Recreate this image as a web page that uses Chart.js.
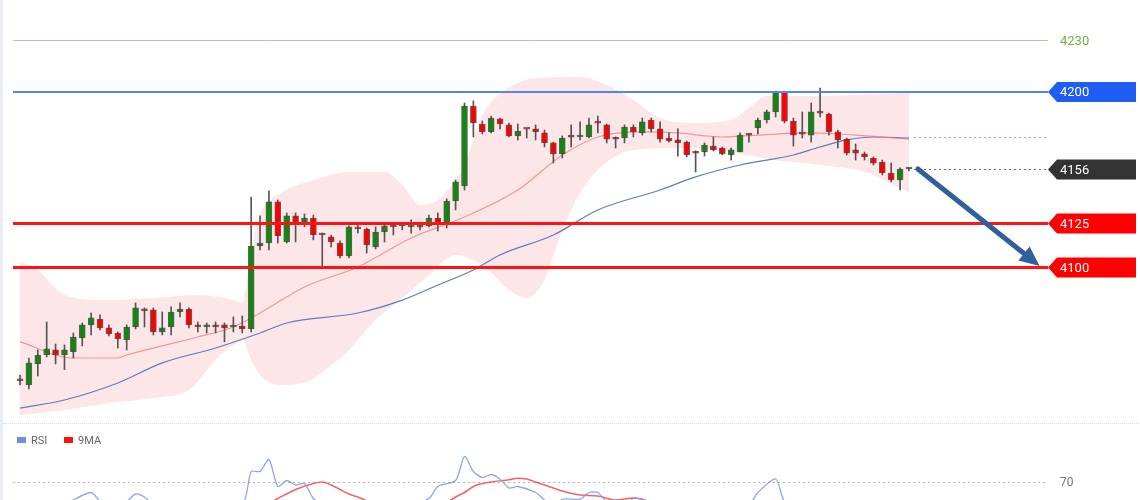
<!DOCTYPE html>
<html>
<head>
<meta charset="utf-8">
<script src="https://cdn.jsdelivr.net/npm/chart.js@4.4.1/dist/chart.umd.min.js"></script>
<style>
  html, body { margin: 0; padding: 0; background: #fff; width: 1140px; height: 500px; overflow: hidden; }
  #wrap { position: relative; width: 1140px; height: 500px; border-left: 3px solid #eaeff3; box-sizing: border-box; }
  #main { position: absolute; left: -3px; top: 0; }
  #sep { position: absolute; left: 0; top: 423px; width: 1140px; border-top: 1px dotted #d5e0e2; }
  #rsi { position: absolute; left: -3px; top: 424px; }
  #legend { position: absolute; left: 14px; top: 434px; font: 11px Roboto, "Liberation Sans", sans-serif; color: #666; }
  #legend span.box { display: inline-block; width: 9px; height: 6px; margin-right: 5px; vertical-align: 1px; }
  #legend span.item { margin-right: 14px; }
</style>
</head>
<body>
<div id="wrap">
  <canvas id="main" width="1140" height="422"></canvas>
  <div id="sep"></div>
  <canvas id="rsi" width="1140" height="200"></canvas>
  <div id="legend">
    <span class="item"><span class="box" style="background:#6f8fe6"></span>RSI</span>
    <span class="item"><span class="box" style="background:#ff1010"></span>9MA</span>
  </div>
</div>
<script>
// ------------------------------------------------------------
// Candles (one per bar, left to right)
// ------------------------------------------------------------
var opens = [
  4036.0, 4032.6, 4044.6, 4049.7, 4052.6, 4049.7, 4051.5, 4059.5, 4066.9, 4070.3,
  4065.2, 4062.3, 4058.3, 4065.7, 4076.0, 4075.5, 4062.9, 4065.7, 4074.3, 4076.0,
  4066.9, 4065.7, 4066.9, 4066.9, 4065.7, 4066.3, 4064.6, 4112.0, 4113.7, 4137.2,
  4114.3, 4129.2, 4125.7, 4128.0, 4118.9, 4117.2, 4113.7, 4106.3, 4122.3, 4121.7,
  4111.5, 4120.0, 4123.5, 4123.5, 4122.9, 4122.9, 4123.5, 4128.0, 4125.2, 4137.7,
  4146.3, 4192.0, 4181.7, 4177.2, 4184.6, 4181.2, 4174.9, 4178.9, 4178.9, 4176.6,
  4170.9, 4164.6, 4174.3, 4174.3, 4174.3, 4182.3, 4181.2, 4173.1, 4173.7, 4180.0,
  4176.6, 4184.0, 4178.9, 4173.7, 4172.6, 4171.4, 4166.3, 4165.7, 4169.1, 4168.0,
  4164.0, 4165.7, 4175.4, 4179.5, 4184.0, 4188.6, 4200.0, 4183.4, 4176.0, 4175.4,
  4188.0, 4187.4, 4177.2, 4173.1, 4166.9, 4164.6, 4162.3, 4160.0, 4153.7, 4149.7,
  4156.0
];
var highs = [
  4038.3, 4048.0, 4052.6, 4068.6, 4056.0, 4055.5, 4062.3, 4068.0, 4073.7, 4072.6,
  4066.9, 4062.9, 4066.9, 4079.5, 4076.6, 4076.6, 4074.3, 4077.2, 4079.5, 4076.6,
  4068.6, 4068.0, 4068.6, 4068.0, 4071.5, 4072.0, 4140.0, 4129.2, 4143.5, 4138.3,
  4130.9, 4130.9, 4130.3, 4129.7, 4119.4, 4118.3, 4114.9, 4123.5, 4125.2, 4122.3,
  4122.9, 4124.6, 4124.0, 4124.6, 4126.9, 4125.2, 4129.7, 4130.9, 4138.9, 4149.7,
  4193.7, 4194.9, 4183.4, 4186.3, 4185.1, 4182.3, 4181.7, 4179.0, 4181.2, 4178.3,
  4171.4, 4174.9, 4181.2, 4182.9, 4185.1, 4186.3, 4181.7, 4174.3, 4181.2, 4181.2,
  4185.1, 4185.1, 4182.9, 4176.6, 4178.9, 4172.0, 4166.4, 4170.9, 4174.3, 4168.6,
  4168.0, 4176.6, 4176.0, 4185.1, 4189.7, 4200.5, 4200.5, 4185.1, 4188.6, 4193.7,
  4202.3, 4188.0, 4178.3, 4173.7, 4170.3, 4165.7, 4162.9, 4161.1, 4159.4, 4156.6,
  4156.6
];
var lows = [
  4032.6, 4030.3, 4037.7, 4048.6, 4044.6, 4041.4, 4048.0, 4054.9, 4061.2, 4064.0,
  4060.6, 4053.7, 4052.6, 4064.6, 4065.7, 4061.2, 4061.2, 4061.2, 4071.5, 4065.2,
  4062.9, 4062.3, 4062.3, 4057.2, 4062.9, 4062.3, 4062.9, 4109.7, 4109.7, 4113.7,
  4113.7, 4114.3, 4122.9, 4115.5, 4100.0, 4111.5, 4105.2, 4105.2, 4119.4, 4108.0,
  4110.3, 4114.3, 4118.3, 4121.2, 4119.4, 4121.2, 4122.9, 4120.6, 4122.3, 4132.6,
  4144.0, 4174.3, 4176.0, 4176.6, 4178.9, 4174.3, 4172.6, 4173.7, 4172.6, 4168.6,
  4159.4, 4162.3, 4168.6, 4172.6, 4173.7, 4176.6, 4170.9, 4168.0, 4170.9, 4174.3,
  4175.4, 4177.2, 4171.4, 4171.4, 4163.4, 4162.9, 4154.3, 4163.4, 4166.3, 4164.0,
  4161.1, 4165.7, 4171.4, 4176.0, 4182.3, 4185.7, 4182.3, 4169.1, 4173.7, 4171.4,
  4185.7, 4175.4, 4168.0, 4164.0, 4161.1, 4161.1, 4158.3, 4152.6, 4148.6, 4144.0,
  4154.9
];
var closes = [
  4034.9, 4045.2, 4049.7, 4053.2, 4049.7, 4052.6, 4060.0, 4066.9, 4070.9, 4065.2,
  4061.7, 4058.9, 4065.7, 4076.6, 4074.9, 4062.9, 4065.2, 4074.3, 4076.0, 4066.9,
  4065.7, 4066.9, 4065.7, 4065.2, 4066.3, 4064.6, 4112.0, 4113.7, 4137.2, 4117.7,
  4129.2, 4125.2, 4128.0, 4118.3, 4118.3, 4114.3, 4106.3, 4122.9, 4121.7, 4112.6,
  4120.0, 4123.5, 4122.9, 4123.6, 4123.5, 4122.8, 4128.0, 4125.2, 4137.7, 4148.6,
  4192.0, 4182.3, 4177.2, 4185.1, 4181.7, 4174.9, 4177.7, 4178.8, 4177.2, 4170.9,
  4164.6, 4173.7, 4174.2, 4174.9, 4181.2, 4182.2, 4173.1, 4173.0, 4180.0, 4177.2,
  4182.9, 4178.9, 4173.1, 4172.0, 4170.9, 4164.0, 4165.1, 4169.7, 4166.9, 4164.6,
  4166.9, 4175.4, 4175.3, 4184.0, 4188.6, 4200.0, 4183.4, 4175.4, 4175.9, 4188.6,
  4187.9, 4177.2, 4172.6, 4165.1, 4165.1, 4162.9, 4159.4, 4153.7, 4149.7, 4156.0,
  4156.1
];

// ------------------------------------------------------------
// Overlays: [bar index, price]
// ------------------------------------------------------------
var bandUpper = [
  [0, 4102.9], [2, 4098.3], [5, 4084.0], [10, 4081.1], [15, 4082.3], [20, 4084.0],
  [24, 4081.1], [25, 4079.4], [26, 4109.7], [27, 4129.7], [29, 4141.1], [33, 4149.7],
  [37, 4154.3], [41, 4154.3], [43, 4146.9], [45, 4135.4], [47, 4138.3], [49, 4149.7],
  [50, 4158.3], [52, 4186.9], [55, 4202.3], [58, 4208.0], [63, 4208.6], [66, 4204.0],
  [69, 4195.4], [72, 4185.1], [76, 4182.3], [80, 4184.0], [82, 4190.9], [84, 4197.7],
  [88, 4197.7], [94, 4198.3], [100, 4199.4]
];
var bandLower = [
  [0, 4015.4], [5, 4018.3], [10, 4022.3], [15, 4025.2], [19, 4029.7], [22, 4046.9],
  [24, 4055.5], [25, 4058.3], [26, 4046.9], [27, 4038.3], [29, 4032.6], [32, 4033.7],
  [34, 4040.0], [37, 4052.6], [40, 4069.7], [43, 4082.3], [46, 4095.4], [49, 4106.9],
  [52, 4101.1], [55, 4086.9], [57, 4082.3], [59, 4092.6], [60, 4106.9], [62, 4132.6],
  [64, 4149.7], [66, 4160.0], [69, 4166.9], [75, 4168.0], [80, 4165.7], [85, 4161.1],
  [90, 4158.3], [95, 4154.3], [100, 4142.9]
];
var bandMid = [
  [0, 4057.2], [6, 4048.0], [11, 4048.0], [12, 4049.7], [20, 4060.0], [24, 4065.7],
  [27, 4073.7], [32, 4088.6], [38, 4100.0], [44, 4116.6], [50, 4128.6], [56, 4144.0],
  [61, 4164.0], [65, 4174.3], [70, 4177.2], [74, 4176.6], [79, 4174.3], [83, 4175.4],
  [89, 4176.6], [94, 4175.4], [100, 4173.1]
];
var slowMA = [
  [0, 4019.4], [5, 4024.0], [11, 4033.7], [16, 4045.2], [22, 4053.7], [27, 4062.3],
  [30, 4068.0], [38, 4073.7], [43, 4081.1], [47, 4089.7], [51, 4098.3], [54, 4106.9],
  [60, 4118.3], [65, 4132.6], [72, 4144.0], [76, 4151.5], [81, 4158.3], [87, 4164.0],
  [90, 4168.6], [93, 4172.6], [96, 4174.3], [100, 4173.7]
];

// Levels on the right
var levelValues = [4230, 4200, 4156, 4125, 4100];
var levelLabels = ['4230', '4200', '4156', '4125', '4100'];
var maLastValue = 4174.3;

// Projection arrow: [bar index, price]
var arrowFrom = [101, 4156];
var arrowTo = [114.7, 4100.6];

// RSI panel: [bar index, value]
var rsiLine = [
  [0, 40], [4, 50], [6, 58], [8, 63], [9, 57], [10, 52], [12, 57], [13, 62], [14, 60],
  [15, 55], [20, 48], [25, 55], [26, 77], [27, 77], [28, 85], [29, 67], [30, 71],
  [31, 68], [32, 69], [33, 59], [34, 55], [36, 45], [43, 52], [46, 59], [47, 67],
  [49, 71], [50, 87], [51, 77], [52, 73], [53, 75], [54, 72], [55, 66], [56, 67],
  [58, 63], [59, 58], [60, 52], [61, 58.5], [63, 58.5], [64, 63], [65, 63], [66, 57],
  [68, 55], [69, 59], [70, 58.5], [71, 54], [76, 45], [82, 55], [83, 63], [85, 72],
  [86, 57], [88, 50], [100, 35]
];
var rsiMA = [
  [0, 48], [25, 50], [28, 56], [29, 59], [31, 65], [33, 69], [34, 70], [35, 68],
  [36, 65], [37, 62], [38, 60], [39, 57.5], [42, 52], [47, 52], [48, 56], [49, 60],
  [50, 63], [51, 67], [53, 70], [55, 71.5], [56, 72.5], [57, 72], [58, 70], [60, 66],
  [61, 64], [63, 61.3], [65, 60.7], [67, 58], [69, 59.3], [70, 58.5], [72, 55],
  [80, 52], [88, 56], [100, 50]
];
var rsiLevel = 70;

// x range shared by both panels (bar index units)
var xMin = -0.79;
var xMax = 115.64;

var GREEN = '#138513';
var RED = '#ff0000';

Chart.defaults.font.family = 'Roboto, "Liberation Sans", Arial, sans-serif';

function pts(list) {
  return list.map(function (p) { return { x: p[0], y: p[1] }; });
}

// ------------------------------------------------------------
// Plugin: level lines, right-hand tags and the arrow
// ------------------------------------------------------------
var levelsPlugin = {
  id: 'levels',
  afterDatasetsDraw: function (chart) {
    var c = chart.ctx;
    var area = chart.chartArea;
    var ys = chart.scales.y;
    var xs = chart.scales.x;
    var lastX = xs.getPixelForValue(opens.length - 1) + 5;
    var styles = [
      { line: '#a9d38c', w: 1, dash: [], tag: null, text: '#6db33f', from: area.left },
      { line: '#5585f5', w: 2, dash: [], tag: '#1f5ef2', text: '#fff', from: area.left },
      { line: '#666', w: 1, dash: [2, 3], tag: '#333', text: '#fff', from: lastX },
      { line: '#ff1414', w: 3, dash: [], tag: '#ff0000', text: '#fff', from: area.left },
      { line: '#ff1414', w: 3, dash: [], tag: '#ff0000', text: '#fff', from: area.left }
    ];
    c.save();

    // dotted continuation of the slow MA
    var my = Math.round(ys.getPixelForValue(maLastValue)) + 0.5;
    c.strokeStyle = '#8ea6d8';
    c.lineWidth = 1;
    c.setLineDash([2, 3]);
    c.beginPath();
    c.moveTo(lastX, my);
    c.lineTo(area.right, my);
    c.stroke();

    levelValues.forEach(function (v, i) {
      var s = styles[i];
      var y = Math.round(ys.getPixelForValue(v)) + (s.w % 2 ? 0.5 : 0);
      c.setLineDash(s.dash);
      c.strokeStyle = s.line;
      c.lineWidth = s.w;
      c.beginPath();
      c.moveTo(s.from, y);
      c.lineTo(area.right, y);
      c.stroke();
      c.setLineDash([]);
      var tx = area.right;
      if (s.tag) {
        c.fillStyle = s.tag;
        c.beginPath();
        c.moveTo(tx, y);
        c.lineTo(tx + 9, y - 10);
        c.lineTo(1136, y - 10);
        c.lineTo(1136, y + 10);
        c.lineTo(tx + 9, y + 10);
        c.closePath();
        c.fill();
      }
      c.fillStyle = s.text;
      c.font = '13px Roboto, "Liberation Sans", Arial, sans-serif';
      c.textBaseline = 'middle';
      c.fillText(levelLabels[i], tx + 12, y + 1);
    });

    // projection arrow
    var x1 = xs.getPixelForValue(arrowFrom[0]);
    var y1 = ys.getPixelForValue(arrowFrom[1]);
    var x2 = xs.getPixelForValue(arrowTo[0]);
    var y2 = ys.getPixelForValue(arrowTo[1]);
    var ang = Math.atan2(y2 - y1, x2 - x1);
    var head = 20;
    var bx = x2 - head * Math.cos(ang);
    var by = y2 - head * Math.sin(ang);
    c.strokeStyle = '#2f5f9c';
    c.fillStyle = '#2f5f9c';
    c.lineWidth = 5;
    c.lineCap = 'round';
    c.beginPath();
    c.moveTo(x1, y1);
    c.lineTo(bx, by);
    c.stroke();
    c.beginPath();
    c.moveTo(x2, y2);
    c.lineTo(bx + 9 * Math.sin(ang), by - 9 * Math.cos(ang));
    c.lineTo(bx - 9 * Math.sin(ang), by + 9 * Math.cos(ang));
    c.closePath();
    c.fill();
    c.restore();
  }
};

// ------------------------------------------------------------
// Main price chart
// ------------------------------------------------------------
new Chart(document.getElementById('main'), {
  type: 'bar',
  data: {
    datasets: [
      {
        label: 'bodies',
        order: 0,
        grouped: false,
        data: opens.map(function (o, i) { return { x: i, y: [o, closes[i]] }; }),
        backgroundColor: function (ctx) {
          var i = ctx.dataIndex;
          return closes[i] >= opens[i] ? GREEN : RED;
        },
        borderColor: 'rgba(50,50,50,0.75)',
        borderWidth: 1,
        borderSkipped: false,
        barThickness: 6,
        minBarLength: 2
      },
      {
        label: 'wicks',
        order: 1,
        grouped: false,
        data: lows.map(function (l, i) { return { x: i, y: [l, highs[i]] }; }),
        backgroundColor: '#555',
        borderWidth: 0,
        barThickness: 1
      },
      {
        type: 'line',
        label: 'mid',
        order: 2,
        data: pts(bandMid),
        borderColor: 'rgba(245,120,120,0.75)',
        borderWidth: 1.2,
        pointRadius: 0,
        tension: 0.4,
        cubicInterpolationMode: 'monotone',
        fill: false
      },
      {
        type: 'line',
        label: 'slow',
        order: 2,
        data: pts(slowMA),
        borderColor: '#5a7fc0',
        borderWidth: 1.2,
        pointRadius: 0,
        tension: 0.4,
        cubicInterpolationMode: 'monotone',
        fill: false
      },
      {
        type: 'line',
        label: 'upper',
        order: 3,
        data: pts(bandUpper),
        borderWidth: 0,
        pointRadius: 0,
        tension: 0.4,
        cubicInterpolationMode: 'monotone',
        backgroundColor: 'rgba(252,214,218,0.62)',
        fill: '+1'
      },
      {
        type: 'line',
        label: 'lower',
        order: 3,
        data: pts(bandLower),
        borderWidth: 0,
        pointRadius: 0,
        tension: 0.4,
        cubicInterpolationMode: 'monotone',
        fill: false
      }
    ]
  },
  options: {
    responsive: false,
    animation: false,
    events: [],
    layout: { padding: { left: 13, right: 92, top: 10, bottom: 2 } },
    plugins: { legend: { display: false }, tooltip: { enabled: false } },
    scales: {
      x: { type: 'linear', min: xMin, max: xMax, offset: false, display: false },
      y: { min: 4012.57, max: 4246.86, display: false }
    }
  },
  plugins: [levelsPlugin]
});

// ------------------------------------------------------------
// RSI panel
// ------------------------------------------------------------
var rsiLevelPlugin = {
  id: 'rsiLevel',
  beforeDatasetsDraw: function (chart) {
    var c = chart.ctx;
    var area = chart.chartArea;
    var y = Math.round(chart.scales.y.getPixelForValue(rsiLevel)) + 0.5;
    c.save();
    c.strokeStyle = '#b5b5b5';
    c.lineWidth = 1;
    c.setLineDash([2, 3]);
    c.beginPath();
    c.moveTo(area.left, y);
    c.lineTo(area.right, y);
    c.stroke();
    c.fillStyle = '#777';
    c.font = '12px Roboto, "Liberation Sans", Arial, sans-serif';
    c.textBaseline = 'middle';
    c.fillText(String(rsiLevel), area.right + 12, y);
    c.restore();
  }
};

new Chart(document.getElementById('rsi'), {
  type: 'line',
  data: {
    datasets: [
      {
        label: 'RSI',
        data: pts(rsiLine),
        borderColor: 'rgba(120,150,235,0.85)',
        borderWidth: 1.3,
        pointRadius: 0,
        tension: 0.25
      },
      {
        label: '9MA',
        data: pts(rsiMA),
        borderColor: 'rgba(240,70,70,0.85)',
        borderWidth: 1.5,
        pointRadius: 0,
        tension: 0.4,
        cubicInterpolationMode: 'monotone'
      }
    ]
  },
  options: {
    responsive: false,
    animation: false,
    events: [],
    layout: { padding: { left: 13, right: 92, top: 13, bottom: 37 } },
    plugins: { legend: { display: false }, tooltip: { enabled: false } },
    scales: {
      x: { type: 'linear', min: xMin, max: xMax, display: false },
      y: { min: 0, max: 100, display: false }
    }
  },
  plugins: [rsiLevelPlugin]
});
</script>
</body>
</html>
